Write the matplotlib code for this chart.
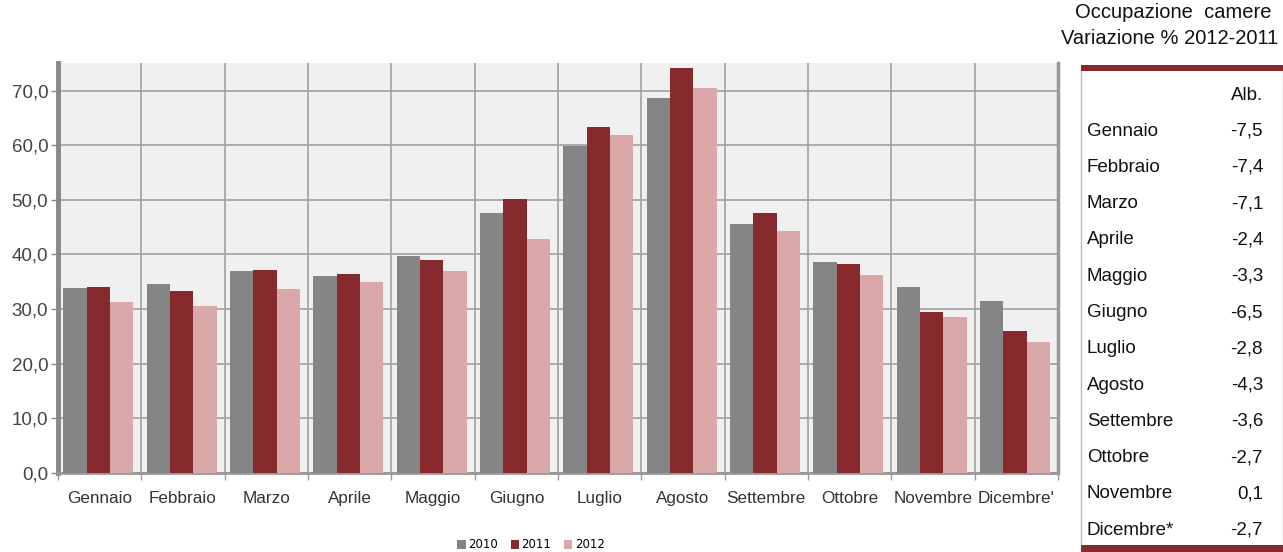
import matplotlib
matplotlib.use("Agg")
import matplotlib.pyplot as plt
from matplotlib.patches import Rectangle
import numpy as np

months = ["Gennaio", "Febbraio", "Marzo", "Aprile", "Maggio", "Giugno", "Luglio",
          "Agosto", "Settembre", "Ottobre", "Novembre", "Dicembre'"]
v2010 = [33.9, 34.6, 36.9, 36.0, 39.7, 47.6, 59.8, 68.7, 45.6, 38.6, 34.0, 31.4]
v2011 = [34.1, 33.4, 37.1, 36.4, 38.9, 50.2, 63.4, 74.1, 47.5, 38.2, 29.4, 26.0]
v2012 = [31.3, 30.6, 33.7, 35.0, 37.0, 42.9, 61.9, 70.4, 44.3, 36.3, 28.5, 24.0]
series_labels = ["2010", "2011", "2012"]
yticks = [0, 10, 20, 30, 40, 50, 60, 70]

table_title = ["Occupazione  camere", "Variazione % 2012-2011"]
table_header = "Alb."
table_months = ["Gennaio", "Febbraio", "Marzo", "Aprile", "Maggio", "Giugno", "Luglio",
                "Agosto", "Settembre", "Ottobre", "Novembre", "Dicembre*"]
table_values = ["-7,5", "-7,4", "-7,1", "-2,4", "-3,3", "-6,5", "-2,8",
                "-4,3", "-3,6", "-2,7", "0,1", "-2,7"]

colors = ["#858585", "#862A2E", "#DBA8AA"]
sans = ["Liberation Sans", "DejaVu Sans"]

W, H = 1283, 552
fig = plt.figure(figsize=(W / 100, H / 100), dpi=100)
ax = fig.add_axes([58 / W, 1 - 473 / H, 1000 / W, (473 - 62.7) / H])
ax.set_facecolor("#F0F0F0")

x = np.arange(len(months))
bw = 0.28
offs = [-bw, 0, bw]
for vals, c, lab, o in zip([v2010, v2011, v2012], colors, series_labels, offs):
    ax.bar(x + o - 0.015, vals, width=bw, color=c, label=lab, zorder=3)

ax.set_xlim(-0.5, len(months) - 0.5)
ax.set_ylim(0, 75.1)
ax.set_yticks(yticks)
ax.set_yticklabels([f"{t:.1f}".replace(".", ",") for t in yticks],
                   fontsize=13.5, color="#444444", family=sans)
ax.set_xticks(x)
ax.set_xticklabels(months, fontsize=12.3, color="#333333", family=sans)
ax.set_xticks(np.arange(-0.5, len(months)), minor=True)
ax.tick_params(axis="x", which="major", length=0, pad=13)
ax.tick_params(axis="x", which="minor", length=5, color="#999999", width=1)
ax.tick_params(axis="y", length=5, color="#888888", width=1, pad=2)
ax.grid(True, axis="y", color="#A6A6A6", linewidth=1.3, zorder=0)
ax.grid(True, axis="x", which="minor", color="#A6A6A6", linewidth=1.3, zorder=0)
ax.spines["top"].set_visible(False)
ax.spines["left"].set_color("#888888")
ax.spines["left"].set_linewidth(3.5)
ax.spines["bottom"].set_color("#999999")
ax.spines["bottom"].set_linewidth(2)
ax.spines["right"].set_color("#999999")
ax.spines["right"].set_linewidth(2.5)

leg = fig.legend(loc="center", bbox_to_anchor=(531 / W, 1 - 545 / H), ncol=3,
                 frameon=False, fontsize=8.5, handlelength=0.7, handleheight=0.7,
                 handletextpad=0.2, columnspacing=1.1)

def fx(px):
    return px / W

def fy(py):
    return 1 - py / H

fig.text(fx(1173), fy(13), table_title[0], ha="center", va="center", fontsize=14.5,
         family=sans, color="#111111")
fig.text(fx(1170), fy(38), table_title[1], ha="center", va="center", fontsize=14.5,
         family=sans, color="#111111")
fig.patches.append(Rectangle((fx(1081), fy(554)), fx(1283) - fx(1081), fy(68) - fy(554),
                             transform=fig.transFigure, facecolor="white",
                             edgecolor="#BBBBBB", linewidth=1, zorder=1))
fig.patches.append(Rectangle((fx(1081), fy(71)), fx(1283) - fx(1081), fy(65) - fy(71),
                             transform=fig.transFigure, facecolor="#862A2E",
                             edgecolor="none", zorder=2))
fig.patches.append(Rectangle((fx(1081), fy(552)), fx(1283) - fx(1081), fy(545) - fy(552),
                             transform=fig.transFigure, facecolor="#862A2E",
                             edgecolor="none", zorder=2))
fig.text(fx(1263), fy(95), table_header, ha="right", va="center", fontsize=13.5,
         family=sans, color="#111111")
for i, (m, v) in enumerate(zip(table_months, table_values)):
    yy = 131 + i * 36.3
    fig.text(fx(1087), fy(yy), m, ha="left", va="center", fontsize=13.5,
             family=sans, color="#111111")
    fig.text(fx(1263), fy(yy), v, ha="right", va="center", fontsize=13.5,
             family=sans, color="#111111")

fig.savefig("out.png", dpi=100)
